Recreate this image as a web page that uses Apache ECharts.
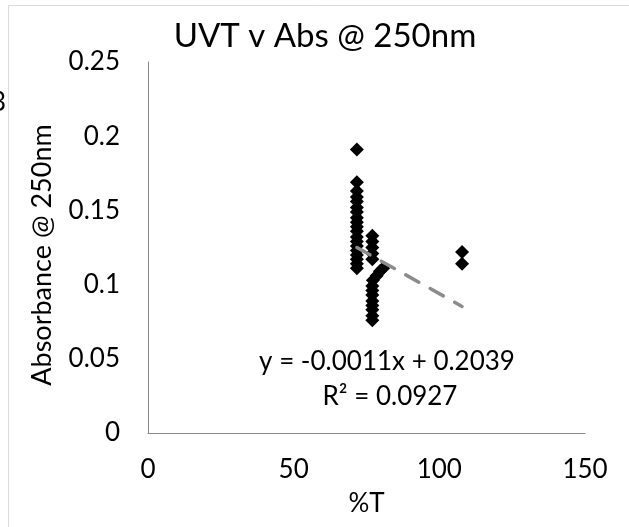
<!DOCTYPE html>
<html><head><meta charset="utf-8">
<script src="https://cdn.jsdelivr.net/npm/echarts@6/dist/echarts.min.js"></script>
<style>html,body{margin:0;padding:0;background:#fff}#c{width:629px;height:527px}</style>
</head><body><div id="c"></div>
<script>
var titleText = "UVT v Abs @ 250nm";
var xAxisName = "%T";
var yAxisName = "Absorbance @ 250nm";
var pointX = [71.7,71.7,71.7,71.7,71.7,71.7,71.7,71.7,71.7,71.7,71.7,71.7,71.7,71.7,71.7,71.7,71.7,71.7,71.7,
  77,77,77,77,77,
  80.7,79.6,78.5,77.2,77,77,77,77,77,77,77,77,
  107.8,107.8];
var pointY = [0.191,0.169,0.163,0.159,0.156,0.152,0.149,0.145,0.142,0.139,0.136,0.132,0.129,0.126,0.123,0.120,0.117,0.114,0.111,
  0.133,0.129,0.125,0.121,0.117,
  0.111,0.109,0.106,0.103,0.099,0.096,0.093,0.089,0.086,0.083,0.079,0.076,
  0.122,0.114];
var trendX = [71.7, 107.8];
var trendY = [0.125, 0.0853];
var equationText = "y = -0.0011x + 0.2039";
var r2Text = "R² = 0.0927";
var xTicks = [0, 50, 100, 150];
var yTicks = [0, 0.05, 0.1, 0.15, 0.2, 0.25];

var font = "Lato, 'Open Sans', sans-serif";
var chart = echarts.init(document.getElementById('c'));
var pts = pointX.map(function(x,i){return [x, pointY[i]];});
var trend = trendX.map(function(x,i){return [x, trendY[i]];});
chart.setOption({
  animation:false,
  title:{text:titleText,top:15,left:320,textAlign:'center',textStyle:{fontFamily:font,fontSize:33,fontWeight:'normal',color:'#000'}},
  grid:{left:148,right:44,top:62,bottom:94},
  xAxis:{type:'value',min:xTicks[0],max:xTicks[xTicks.length-1],interval:50,
    name:xAxisName,nameLocation:'middle',nameGap:58,
    nameTextStyle:{fontFamily:font,fontSize:26,color:'#000'},
    axisLine:{show:true,lineStyle:{color:'#898989',width:1}},axisTick:{show:false},splitLine:{show:false},
    axisLabel:{fontFamily:font,fontSize:26,color:'#000',margin:24}},
  yAxis:{type:'value',min:yTicks[0],max:yTicks[yTicks.length-1],interval:0.05,
    axisLine:{show:true,lineStyle:{color:'#898989',width:1}},axisTick:{show:false},splitLine:{show:false},
    axisLabel:{fontFamily:font,fontSize:26,color:'#000',margin:28}},
  series:[
    {type:'scatter',data:pts,symbol:'diamond',symbolSize:14,itemStyle:{color:'#000',opacity:1},z:3},
    {type:'line',data:trend,symbol:'none',lineStyle:{color:'#8c8c8c',width:3.5,type:[15,13],cap:'round'},z:4}
  ],
  graphic:[
    {type:'line',shape:{x1:8.5,y1:5.5,x2:629,y2:5.5},style:{stroke:'#d9d9d9',lineWidth:1}},
    {type:'line',shape:{x1:8.5,y1:5.5,x2:8.5,y2:527},style:{stroke:'#d9d9d9',lineWidth:1}},
    {type:'text',x:-9,y:103,style:{text:'3',font:'26px '+font,fill:'#000',textVerticalAlign:'middle'}},
    {type:'text',x:42,y:255,rotation:Math.PI/2,style:{text:yAxisName,font:'27px '+font,fill:'#000',textAlign:'center',textVerticalAlign:'middle'}},
    {type:'text',x:387,y:362,style:{text:equationText,font:'26px '+font,fill:'#000',textAlign:'center',textVerticalAlign:'middle'}},
    {type:'text',x:390,y:397,style:{text:r2Text,font:'26px '+font,fill:'#000',textAlign:'center',textVerticalAlign:'middle'}}
  ]
});
</script></body></html>
